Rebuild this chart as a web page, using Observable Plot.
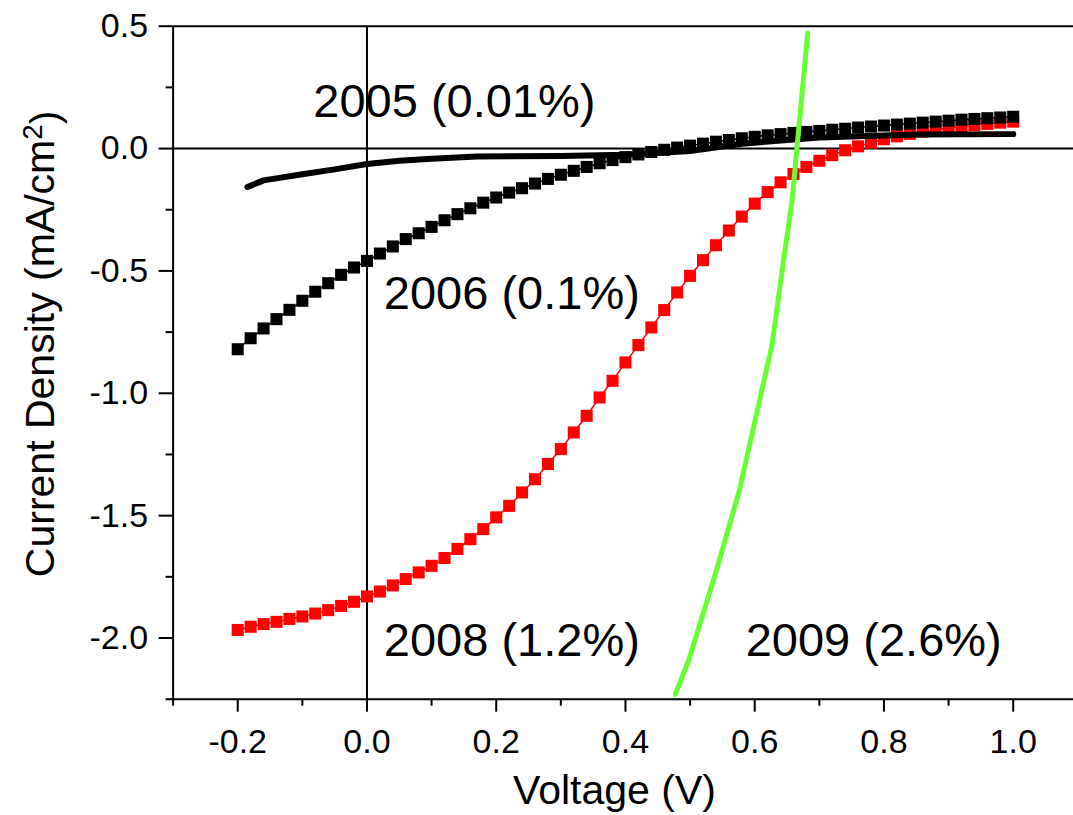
<!DOCTYPE html>
<html>
<head>
<meta charset="utf-8">
<script src="https://cdn.jsdelivr.net/npm/d3@7"></script>
<script src="https://cdn.jsdelivr.net/npm/@observablehq/plot@0.6"></script>
<style>
  html, body { margin: 0; padding: 0; background: #fff; }
  #chart svg { display: block; }
</style>
</head>
<body>
<div id="chart"></div>
<script>
// Voltage sweep shared by the 2006 and 2008 devices (V)
const sweepVoltage = [
  -0.20, -0.18, -0.16, -0.14, -0.12, -0.10, -0.08, -0.06, -0.04, -0.02,
   0.00,  0.02,  0.04,  0.06,  0.08,  0.10,  0.12,  0.14,  0.16,  0.18,
   0.20,  0.22,  0.24,  0.26,  0.28,  0.30,  0.32,  0.34,  0.36,  0.38,
   0.40,  0.42,  0.44,  0.46,  0.48,  0.50,  0.52,  0.54,  0.56,  0.58,
   0.60,  0.62,  0.64,  0.66,  0.68,  0.70,  0.72,  0.74,  0.76,  0.78,
   0.80,  0.82,  0.84,  0.86,  0.88,  0.90,  0.92,  0.94,  0.96,  0.98,
   1.00
];

// 2006 device, current density (mA/cm²)
const density2006 = [
  -0.820, -0.775, -0.735, -0.697, -0.659, -0.622, -0.585, -0.550, -0.516, -0.486,
  -0.459, -0.429, -0.400, -0.370, -0.346, -0.320, -0.293, -0.268, -0.244, -0.221,
  -0.200, -0.180, -0.162, -0.143, -0.124, -0.107, -0.091, -0.075, -0.060, -0.047,
  -0.035, -0.024, -0.014, -0.005,  0.004,  0.012,  0.020,  0.028,  0.035,  0.042,
   0.048,  0.054,  0.059,  0.064,  0.068,  0.072,  0.077,  0.081,  0.086,  0.090,
   0.094,  0.098,  0.102,  0.106,  0.110,  0.114,  0.118,  0.121,  0.124,  0.127,
   0.130
];

// 2008 device, current density (mA/cm²)
const density2008 = [
  -1.967, -1.954, -1.943, -1.934, -1.922, -1.912, -1.900, -1.886, -1.869, -1.852,
  -1.830, -1.810, -1.785, -1.759, -1.732, -1.705, -1.673, -1.636, -1.596, -1.555,
  -1.507, -1.460, -1.405, -1.351, -1.289, -1.228, -1.160, -1.092, -1.017, -0.949,
  -0.874, -0.803, -0.731, -0.660, -0.588, -0.520, -0.456, -0.395, -0.335, -0.278,
  -0.225, -0.178, -0.138, -0.104, -0.075, -0.050, -0.027, -0.007,  0.009,  0.024,
   0.038,  0.050,  0.060,  0.069,  0.077,  0.084,  0.090,  0.096,  0.101,  0.106,
   0.110
];

// 2005 device (continuous trace)
const voltage2005 = [-0.185, -0.160, -0.100, -0.050, 0.000, 0.050, 0.100, 0.170, 0.300, 0.400, 0.500, 0.580, 0.700, 0.850, 1.000];
const density2005 = [-0.157, -0.130, -0.105, -0.085, -0.063, -0.050, -0.042, -0.032, -0.030, -0.025, -0.010, 0.020, 0.045, 0.057, 0.059];

// 2009 device (continuous trace)
const voltage2009 = [0.477, 0.498, 0.540, 0.576, 0.627, 0.645, 0.658, 0.666, 0.682];
const density2009 = [-2.230, -2.090, -1.730, -1.400, -0.800, -0.450, -0.210, 0.020, 0.471];

// Curve annotations: year and power conversion efficiency
const labelText = ["2005 (0.01%)", "2006 (0.1%)", "2008 (1.2%)", "2009 (2.6%)"];
const labelVoltage = [-0.083, 0.026, 0.026, 0.586];
const labelDensity = [0.127, -0.656, -2.073, -2.073];

// Axis ticks
const xMajorTicks = [-0.2, 0.0, 0.2, 0.4, 0.6, 0.8, 1.0];
const xMinorTicks = [-0.3, -0.1, 0.1, 0.3, 0.5, 0.7, 0.9];
const yMajorTicks = [0.5, 0.0, -0.5, -1.0, -1.5, -2.0];
const yMinorTicks = [0.25, -0.25, -0.75, -1.25, -1.75, -2.25];

const xTitle = "Voltage (V)";
const yTitle = "Current Density (mA/cm²)";

const fmt = d => d.toFixed(1);
const labels = labelText.map((t, i) => ({t, v: labelVoltage[i], j: labelDensity[i]}));

const chart = Plot.plot({
  width: 1073,
  height: 815,
  marginLeft: 172.6,
  marginRight: 0,
  marginTop: 25.7,
  marginBottom: 116.3,
  x: {domain: [-0.3, 1.0933]},
  y: {domain: [-2.25, 0.5]},
  style: {fontFamily: "'Liberation Sans', Arial, Helvetica, sans-serif", background: "#fff", color: "#000"},
  marks: [
    // frame and zero reference lines
    Plot.ruleY([0.5, 0, -2.25], {stroke: "#000", strokeWidth: 2}),
    Plot.ruleX([-0.3, 0], {stroke: "#000", strokeWidth: 2}),

    // axes
    Plot.axisX(xMajorTicks, {tickSize: 13, tickPadding: 17, fontSize: 34, tickFormat: fmt, strokeWidth: 2, label: null}),
    Plot.axisX(xMinorTicks, {tickSize: 7, tickFormat: () => "", strokeWidth: 2, label: null}),
    Plot.axisY(yMajorTicks, {tickSize: 14, tickPadding: 11, fontSize: 34, tickFormat: fmt, strokeWidth: 2, label: null}),
    Plot.axisY(yMinorTicks, {tickSize: 7, tickFormat: () => "", strokeWidth: 2, label: null}),

    // 2008: red squares with thin connecting line
    Plot.line(sweepVoltage, {x: sweepVoltage, y: density2008, stroke: "#ff0000", strokeWidth: 1.5}),
    Plot.dot(sweepVoltage, {x: sweepVoltage, y: density2008, symbol: "square", r: 6.8, fill: "#ff0000"}),

    // 2006: black squares with thin connecting line
    Plot.line(sweepVoltage, {x: sweepVoltage, y: density2006, stroke: "#000", strokeWidth: 1.5}),
    Plot.dot(sweepVoltage, {x: sweepVoltage, y: density2006, symbol: "square", r: 6.8, fill: "#000"}),

    // 2005: thick black trace
    Plot.line(voltage2005, {x: voltage2005, y: density2005, stroke: "#000", strokeWidth: 6}),

    // 2009: green trace
    Plot.line(voltage2009, {x: voltage2009, y: density2009, stroke: "#66ff33", strokeWidth: 5}),

    // curve annotations
    Plot.text(labels, {x: "v", y: "j", text: "t", textAnchor: "start", lineAnchor: "bottom", fontSize: 47, fill: "#000"}),

    // axis titles
    Plot.text([xTitle], {x: () => 0.383, y: () => -2.25, text: d => d, dy: 104.6, lineAnchor: "bottom", textAnchor: "middle", fontSize: 41, fill: "#000"}),
    Plot.text([yTitle], {x: () => -0.3, y: () => -0.798, text: d => d, dx: -119.6, rotate: -90, lineAnchor: "bottom", textAnchor: "middle", fontSize: 41, fill: "#000", className: "y-title"})
  ]
});

// Typeset the unit's exponent as a raised, smaller "2"
d3.select(chart).selectAll(".y-title text").each(function() {
  const el = d3.select(this);
  const full = el.text();
  const i = full.indexOf("²");
  if (i < 0) return;
  el.text(null);
  el.append("tspan").text(full.slice(0, i));
  el.append("tspan").attr("dy", "-0.42em").attr("font-size", "0.68em").text("2");
  el.append("tspan").attr("dy", "0.42em").text(full.slice(i + 1));
});

document.getElementById("chart").appendChild(chart);
</script>
</body>
</html>
